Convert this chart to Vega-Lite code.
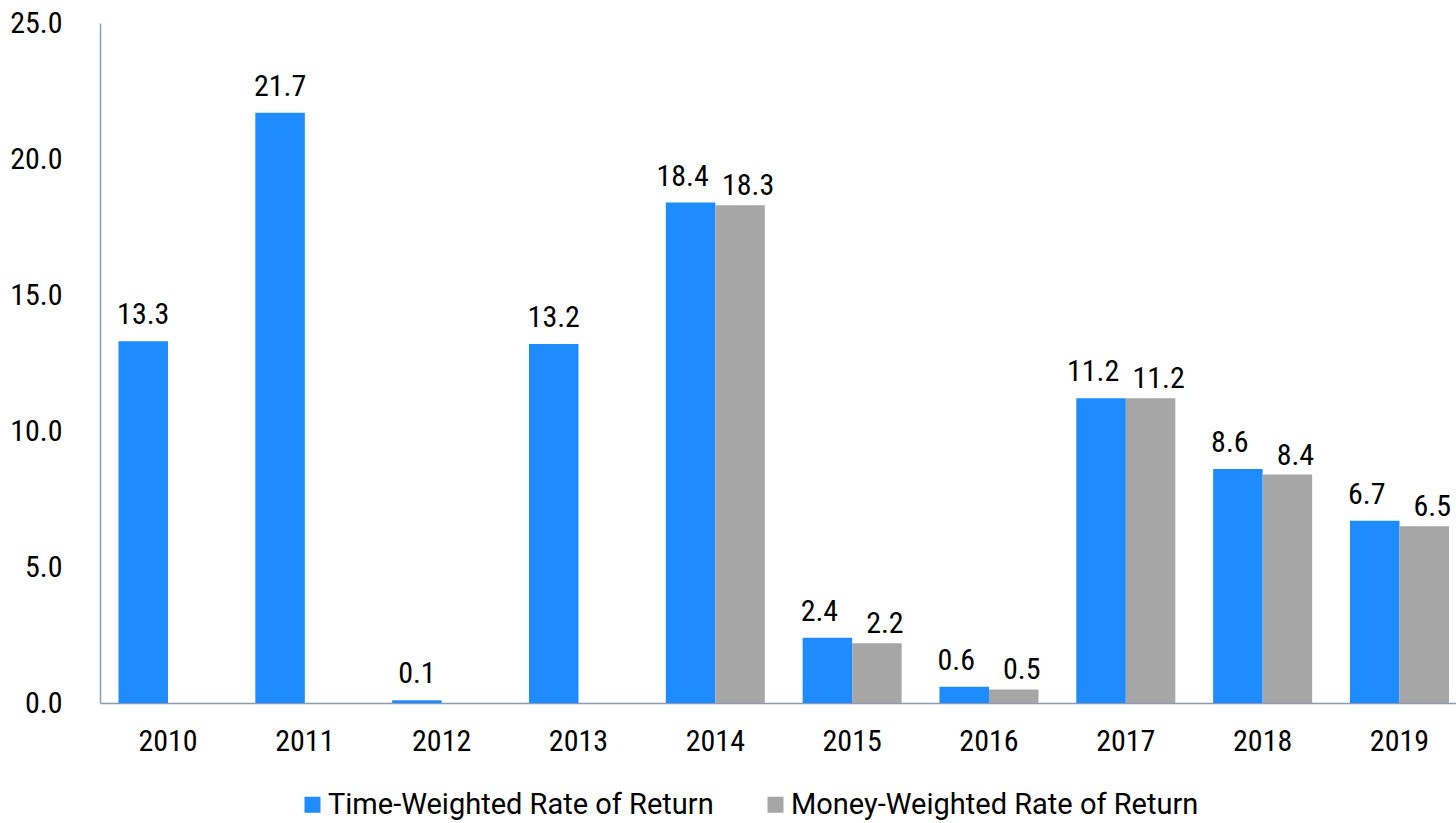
{
  "$schema": "https://vega.github.io/schema/vega-lite/v6.json",
  "autosize": {"type": "none"},
  "width": 1356,
  "height": 680,
  "padding": {"left": 100, "top": 23, "right": 0, "bottom": 120},
  "background": "white",
  "config": {
    "view": {"stroke": null},
    "font": "'Roboto Condensed', 'DejaVu Sans Condensed'",
    "axis": {"grid": false, "ticks": false, "domainColor": "#8E9AB5", "domainWidth": 1.5, "labelColor": "#000000", "labelFont": "'Roboto Condensed', 'DejaVu Sans Condensed'", "labelFontSize": 30, "labelFontWeight": "normal", "title": null}
  },
  "data": {
    "values": [
      {"year": "2010", "series": "Time-Weighted Rate of Return", "value": 13.3},
      {"year": "2011", "series": "Time-Weighted Rate of Return", "value": 21.7},
      {"year": "2012", "series": "Time-Weighted Rate of Return", "value": 0.1},
      {"year": "2013", "series": "Time-Weighted Rate of Return", "value": 13.2},
      {"year": "2014", "series": "Time-Weighted Rate of Return", "value": 18.4},
      {"year": "2014", "series": "Money-Weighted Rate of Return", "value": 18.3},
      {"year": "2015", "series": "Time-Weighted Rate of Return", "value": 2.4},
      {"year": "2015", "series": "Money-Weighted Rate of Return", "value": 2.2},
      {"year": "2016", "series": "Time-Weighted Rate of Return", "value": 0.6},
      {"year": "2016", "series": "Money-Weighted Rate of Return", "value": 0.5},
      {"year": "2017", "series": "Time-Weighted Rate of Return", "value": 11.2},
      {"year": "2017", "series": "Money-Weighted Rate of Return", "value": 11.2},
      {"year": "2018", "series": "Time-Weighted Rate of Return", "value": 8.6},
      {"year": "2018", "series": "Money-Weighted Rate of Return", "value": 8.4},
      {"year": "2019", "series": "Time-Weighted Rate of Return", "value": 6.7},
      {"year": "2019", "series": "Money-Weighted Rate of Return", "value": 6.5}
    ]
  },
  "encoding": {
    "x": {
      "field": "year", "type": "nominal", "sort": null,
      "scale": {"paddingInner": 0.2763, "paddingOuter": 0.0932, "align": 0.725},
      "axis": {"labelAngle": 0, "labelPadding": 23, "labelBaseline": "top"}
    },
    "xOffset": {
      "field": "series", "type": "nominal",
      "scale": {"domain": ["Time-Weighted Rate of Return", "Money-Weighted Rate of Return"], "paddingInner": 0, "paddingOuter": 0}
    },
    "y": {
      "field": "value", "type": "quantitative",
      "scale": {"domain": [0, 25], "nice": false, "zero": true},
      "axis": {"values": [0, 5, 10, 15, 20, 25], "format": ".1f", "labelPadding": 38}
    }
  },
  "layer": [
    {
      "mark": {"type": "bar"},
      "encoding": {
        "color": {
          "field": "series", "type": "nominal",
          "scale": {"domain": ["Time-Weighted Rate of Return", "Money-Weighted Rate of Return"], "range": ["#1E8CFF", "#A6A6A6"]},
          "legend": {
            "title": null, "orient": "none", "direction": "horizontal",
            "legendX": 198, "legendY": 767,
            "symbolType": "square", "symbolSize": 256, "symbolStrokeWidth": 0,
            "labelFont": "Roboto", "labelFontSize": 29, "labelColor": "#000000",
            "labelOffset": 1, "columnPadding": 47, "labelLimit": 600
          }
        }
      }
    },
    {
      "transform": [{"filter": "datum.series === 'Time-Weighted Rate of Return' && datum.year < '2014'"}],
      "mark": {"type": "text", "baseline": "alphabetic", "dy": -17, "fontSize": 30, "font": "'Roboto Condensed', 'DejaVu Sans Condensed'", "color": "#000000"},
      "encoding": {
        "text": {"field": "value", "type": "quantitative", "format": ".1f"}
      }
    },
    {
      "transform": [{"filter": "datum.series === 'Time-Weighted Rate of Return' && datum.year >= '2014'"}],
      "mark": {"type": "text", "baseline": "alphabetic", "dy": -17, "dx": -8, "fontSize": 30, "font": "'Roboto Condensed', 'DejaVu Sans Condensed'", "color": "#000000"},
      "encoding": {
        "text": {"field": "value", "type": "quantitative", "format": ".1f"}
      }
    },
    {
      "transform": [{"filter": "datum.series === 'Money-Weighted Rate of Return'"}],
      "mark": {"type": "text", "baseline": "alphabetic", "dy": -10, "dx": 8, "fontSize": 30, "font": "'Roboto Condensed', 'DejaVu Sans Condensed'", "color": "#000000"},
      "encoding": {
        "text": {"field": "value", "type": "quantitative", "format": ".1f"}
      }
    }
  ]
}
